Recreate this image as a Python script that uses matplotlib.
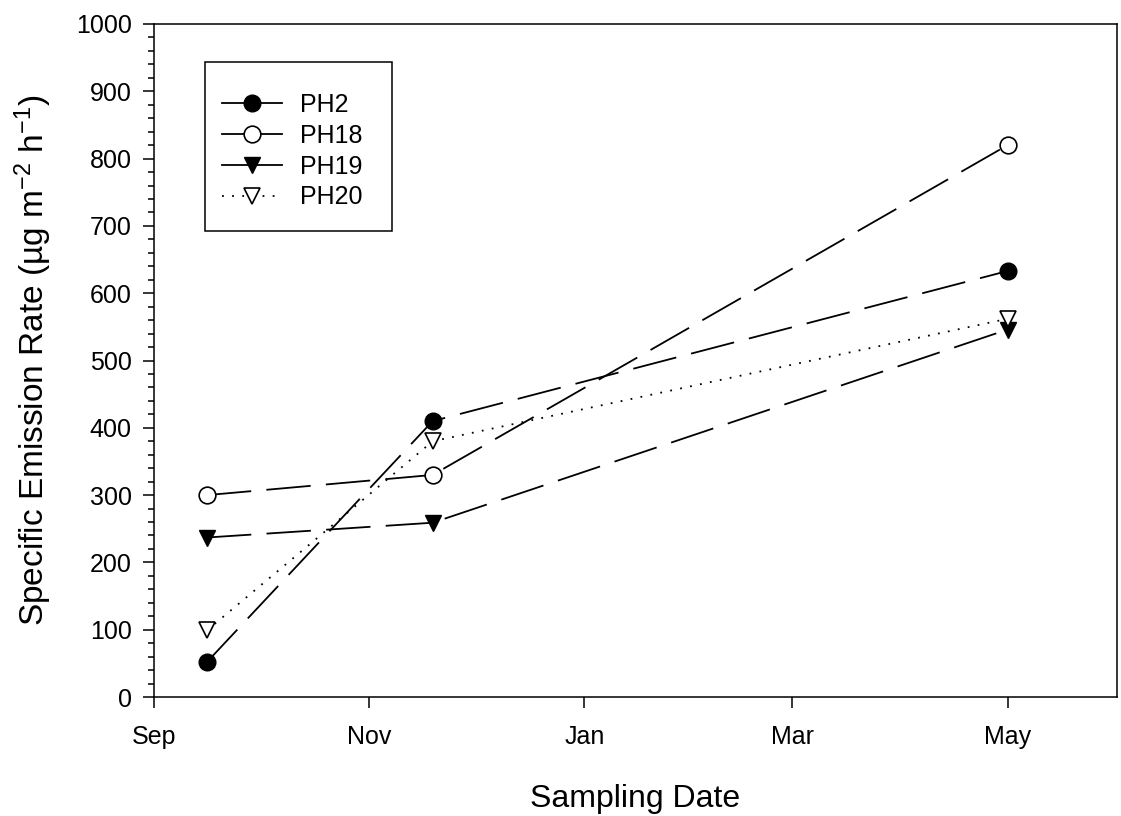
import datetime
import matplotlib
matplotlib.use('Agg')
import matplotlib.pyplot as plt
from matplotlib.patches import Rectangle

plt.rcParams['font.family'] = ['Liberation Sans', 'DejaVu Sans']
plt.rcParams['mathtext.fontset'] = 'custom'
plt.rcParams['mathtext.rm'] = 'Liberation Sans'
plt.rcParams['mathtext.it'] = 'Liberation Sans'
plt.rcParams['lines.scale_dashes'] = False

# sampling dates and emission rates (ug m-2 h-1)
dates = [datetime.date(2006, 9, 16), datetime.date(2006, 11, 19), datetime.date(2007, 5, 1)]
ph2 = [52, 410, 633]
ph18 = [300, 330, 820]
ph19 = [237, 259, 546]
ph20 = [99, 380, 562]

month_ticks = [datetime.date(2006, 9, 1), datetime.date(2006, 11, 1), datetime.date(2007, 1, 1),
               datetime.date(2007, 3, 1), datetime.date(2007, 5, 1)]
month_labels = ['Sep', 'Nov', 'Jan', 'Mar', 'May']

fig = plt.figure(figsize=(11.21, 8.16), dpi=100)
ax = fig.add_axes([0.1374, 0.1458, 0.859, 0.8248])

long_dash = (0, (32, 11))
ms = 12
ax.plot(dates, ph2, color='black', lw=1.3, linestyle=long_dash, marker='o', ms=ms,
        mfc='black', mec='black', label='PH2')
ax.plot(dates, ph18, color='black', lw=1.3, linestyle=long_dash, marker='o', ms=ms,
        mfc='white', mec='black', mew=1.2, label='PH18')
ax.plot(dates, ph19, color='black', lw=1.3, linestyle=long_dash, marker='v', ms=ms,
        mfc='black', mec='black', label='PH19')
ax.plot(dates, ph20, color='black', lw=1.3, linestyle=(0, (1.3, 6)), marker='v', ms=ms,
        mfc='white', mec='black', mew=1.2, label='PH20')

ax.set_xlim(datetime.date(2006, 9, 1), datetime.date(2007, 6, 1))
ax.set_ylim(0, 1000)
ax.set_xticks(month_ticks)
ax.set_xticklabels(month_labels)
ax.set_yticks(range(0, 1001, 100))
ax.set_yticks(range(0, 1001, 20), minor=True)
ax.tick_params(axis='both', which='major', direction='out', length=8, width=1.1,
               labelsize=18, colors='black')
ax.tick_params(axis='x', which='major', pad=12)
ax.tick_params(axis='y', which='major', pad=8)
ax.tick_params(axis='y', which='minor', direction='out', length=4.5, width=1.1)
ax.tick_params(axis='x', which='minor', length=0)
for s in ax.spines.values():
    s.set_linewidth(1.1)

ax.set_ylabel('Specific Emission Rate (µg m$^{-2}$ h$^{-1}$)', fontsize=24, labelpad=16)
ax.set_xlabel('Sampling Date', fontsize=23, labelpad=25)

leg = ax.legend(loc='upper left', bbox_to_anchor=(222 / 1121, 1 - 93 / 816),
                bbox_transform=fig.transFigure, borderaxespad=0, borderpad=0,
                frameon=False, fontsize=18, handlelength=2.4, handletextpad=0.7,
                labelspacing=0.27)
for line in leg.get_lines():
    if line.get_label() != 'PH20':
        line.set_linestyle('-')

fig.add_artist(Rectangle((205 / 1121, 1 - 231 / 816), 187 / 1121, 169 / 816,
                         transform=fig.transFigure, fill=False, edgecolor='black', lw=1.1))

fig.savefig('out.png', dpi=100)
